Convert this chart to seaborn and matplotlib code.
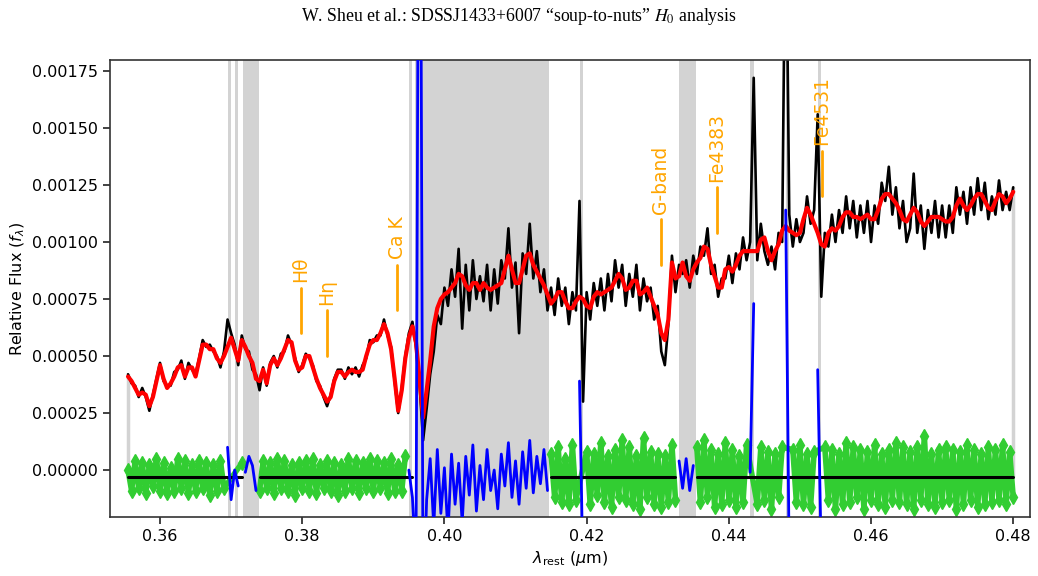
import numpy as np
import matplotlib
matplotlib.use("Agg")
import matplotlib.pyplot as plt
import seaborn as sns
import pandas as pd
from matplotlib.ticker import MultipleLocator, FormatStrFormatter

# ---------------- data (flux values in units of 1e-5) ----------------
wave_start = 0.3555   # micron
wave_step = 0.0005    # micron

model = [
    41, 39, 36, 33, 34, 33, 28, 32, 39, 46,
    40, 36, 38, 41, 45, 46, 41, 45, 45, 41,
    48, 55, 55, 53, 53, 49, 47, 50, 54, 58,
    53, 48, 57, 54, 50, 47, 40, 39, 44, 38,
    46, 49, 46, 49, 53, 57, 56, 48, 44, 45,
    50, 50, 45, 40, 36, 33, 30, 32, 39, 43,
    43, 41, 43, 44, 43, 43, 44, 50, 55, 57,
    57, 60, 64, 60, 53, 40, 26, 35, 49, 58,
    63, 56, 40, 23, 35, 48, 63, 71, 75, 77,
    78, 80, 82, 86, 85, 81, 79, 82, 82, 79,
    82, 80, 79, 80, 81, 82, 88, 94, 88, 82,
    82, 88, 94, 95, 90, 87, 84, 81, 77, 73,
    75, 78, 78, 74, 71, 71, 74, 76, 75, 72,
    71, 76, 78, 77, 78, 79, 80, 83, 86, 84,
    79, 80, 83, 83, 77, 78, 80, 76, 72, 68,
    60, 57, 66, 91, 84, 85, 91, 85, 83, 88,
    91, 93, 98, 97, 90, 85, 80, 80, 88, 89,
    87, 90, 94, 96, 96, 96, 96, 96, 101, 102,
    96, 92, 96, 99, 105, 107, 105, 104, 103, 104,
    110, 115, 112, 108, 104, 99, 98, 104, 106, 105,
    107, 111, 113, 113, 111, 111, 110, 111, 112, 110,
    110, 114, 119, 121, 121, 119, 117, 114, 110, 109,
    112, 115, 113, 109, 107, 109, 111, 111, 111, 110,
    109, 109, 111, 116, 119, 116, 114, 116, 119, 121,
    121, 118, 115, 114, 118, 121, 120, 117, 119, 122,
]

flux = [
    42, 38, 37, 32, 36, 32, 26, 33, 40, 47,
    39, 37, 37, 43, 44, 48, 40, 47, 44, 42,
    49, 57, 54, 55, 52, 50, 45, 52, 66, 60,
    55, 46, 59, 53, 52, 44, 42, 35, 45, 37,
    47, 50, 45, 51, 52, 59, 55, 49, 43, 46,
    51, 49, 46, 39, 37, 32, 28, 33, 40, 44,
    44, 40, 45, 42, 45, 41, 46, 49, 57, 56,
    59, 59, 66, 59, 54, 39, 25, 36, 50, 60,
    65, 54, 38, 13, 27, 42, 52, 68, 64, 80,
    72, 88, 76, 97, 62, 90, 70, 92, 75, 85,
    74, 90, 70, 88, 73, 92, 84, 106, 80, 91,
    60, 95, 86, 108, 84, 96, 78, 88, 70, 80,
    68, 84, 72, 80, 64, 78, 70, 118, 30, 78,
    66, 82, 72, 84, 70, 86, 74, 92, 80, 90,
    72, 86, 76, 90, 70, 84, 74, 80, 66, 72,
    52, 46, 64, 94, 78, 90, 86, 92, 80, 94,
    86, 98, 94, 106, 86, 90, 76, 84, 84, 94,
    82, 95, 88, 102, 92, 100, 172, 92, 108, 96,
    90, 98, 88, 104, 100, 260, 112, 98, 110, 100,
    104, 120, 108, 114, 156, 76, 104, 98, 112, 100,
    114, 104, 120, 106, 118, 102, 116, 104, 118, 100,
    116, 108, 126, 118, 133, 112, 124, 106, 118, 100,
    106, 130, 104, 116, 97, 114, 104, 118, 102, 116,
    102, 116, 104, 124, 112, 122, 108, 124, 112, 128,
    114, 126, 110, 120, 112, 127, 114, 122, 114, 124,
]

resid = [
    3, -6, 7, -5, 6, -7, 5, -4, 8, -6,
    6, -7, 4, -6, 8, -5, 7, -7, 5, -6,
    7, -5, 6, -8, 5, -6, 7, -5, 13, -10,
    3, -4, 6, 2, 9, 5, -6, -6, 7, -5,
    6, -7, 8, -5, 7, -6, 5, -8, 6, -5,
    7, -6, 8, -7, 5, -5, 7, -6, 6, -8,
    5, -6, 8, -5, 7, -7, 6, -5, 8, -6,
    7, -5, 6, -7, 8, -6, 5, -6, 9, 3,
    -9, -40, 400, -60, -10, 8, -22, 12, -16, 4,
    -25, 10, -12, 6, -20, 9, -8, 14, -15, 5,
    -10, 12, -6, 3, -14, 10, -4, 15, -9, 7,
    -12, 11, -5, 16, -7, 9, -3, 12, -6, 10,
    -9, 13, -11, 8, -12, 14, -10, 42, -45, 11,
    -12, 10, -8, 15, -11, 9, -13, 12, -9, 16,
    -10, 13, -12, 9, -14, 17, -9, 11, -12, 10,
    -13, 9, -11, 14, -10, 7, -5, 8, -6, 5,
    13, -11, 16, -9, 12, -13, 10, -12, 15, -10,
    12, -13, 9, -11, 14, 2, 76, -12, 13, -10,
    11, -14, 10, -9, 13, 117, -40, 12, -11, 14,
    -12, 10, -13, 11, 47, -35, 13, -10, 12, -14,
    10, -12, 15, -11, 13, -9, 12, -14, 11, -10,
    14, -12, 10, -13, 12, -10, 15, -11, 13, -12,
    11, -14, 13, -10, 18, -12, 10, -13, 12, -11,
    13, -10, 12, -14, 11, -12, 14, -10, 12, -13,
    10, -12, 13, -11, 12, -10, 14, -12, 11, -9,
]

resid_baseline = -3  # 1e-5 units

mask_lo = [0.3695, 0.3705, 0.3717, 0.3950, 0.3959, 0.4190, 0.4330, 0.4430, 0.4480, 0.4525]
mask_hi = [0.3700, 0.3710, 0.3739, 0.3955, 0.4147, 0.4195, 0.4354, 0.4435, 0.4485, 0.4530]

line_names = ["Hθ", "Hη", "Ca K", "G-band", "Fe4383", "Fe4531"]
line_waves = [0.3798, 0.3835, 0.3934, 0.4304, 0.4383, 0.4531]
line_bottoms = [60, 50, 70, 90, 104, 120]   # 1e-5 units
line_length = 20                             # 1e-5 units

# ---------------- derived arrays ----------------
unit = 1e-5
wave = np.round(wave_start + wave_step * np.arange(len(model)), 4)
model_a = np.array(model, float) * unit
flux_a = np.array(flux, float) * unit
resid_a = np.array(resid, float) * unit + resid_baseline * unit
base = resid_baseline * unit

mask = np.zeros(len(wave), bool)
wide = np.zeros(len(wave), bool)
for lo, hi in zip(mask_lo, mask_hi):
    sel = (wave >= lo - 1e-7) & (wave <= hi + 1e-7)
    mask |= sel
    if hi - lo > 0.001:
        wide |= sel
thin = mask & ~wide

df = pd.DataFrame({"wave": wave, "flux": flux_a, "model": model_a})

# ---------------- plot ----------------
sns.set_style("ticks")
plt.rcParams["font.family"] = ["DejaVu Sans"]
for k in ["text.color", "axes.labelcolor", "xtick.color", "ytick.color"]:
    plt.rcParams[k] = "black"

fig = plt.figure(figsize=(10.38, 5.76), dpi=100)
ax = fig.add_axes([0.106, 0.1024, 0.8863, 0.7934])

for lo, hi in zip(mask_lo, mask_hi):
    ax.axvspan(lo, hi, color="lightgray", lw=0, zorder=0)
ax.vlines([wave[0], wave[-1]], base, [flux_a[0], flux_a[-1]],
          color="lightgray", lw=2.5, zorder=0.5)

sns.lineplot(data=df, x="wave", y="flux", color="black", lw=1.9,
             estimator=None, sort=False, ax=ax, zorder=2)
sns.lineplot(data=df, x="wave", y="model", color="red", lw=3.0,
             estimator=None, sort=False, ax=ax, zorder=3)

# green residuals: unmasked pixels (thin masked pixels skipped, wide masks break the line)
keep = ~thin
green = np.where(wide, np.nan, resid_a)
blue = np.where(mask, resid_a, np.nan)
basel = np.where(~wide, base, np.nan)
ax.plot(wave[keep], green[keep], color="limegreen", marker="d", ms=7, lw=4.0, zorder=2.5)
ax.plot(wave, basel, color="black", lw=2.2, zorder=3.5)
ax.plot(wave, blue, color="blue", lw=2.0, zorder=4)

for name, lw_, yb in zip(line_names, line_waves, line_bottoms):
    y0 = yb * unit
    y1 = (yb + line_length) * unit
    ax.plot([lw_, lw_], [y0, y1], color="orange", lw=2, zorder=5)
    ax.annotate(name, (lw_, y1), xytext=(0, 4), textcoords="offset points",
                rotation=90, ha="center", va="bottom", color="orange",
                fontsize=13.5, zorder=5)

ax.set_xlim(0.35297, 0.48236)
ax.set_ylim(-0.000206, 0.001798)
ax.xaxis.set_major_locator(MultipleLocator(0.02))
ax.xaxis.set_major_formatter(FormatStrFormatter("%.2f"))
ax.yaxis.set_major_locator(MultipleLocator(0.00025))
ax.yaxis.set_major_formatter(FormatStrFormatter("%.5f"))
ax.tick_params(labelsize=11.5, length=5, width=1.2, direction="out", color="#222222")
for s in ax.spines.values():
    s.set_color("#333333")
    s.set_linewidth(1.2)

ax.set_xlabel(r"$\lambda_{\rm rest}$ ($\mu$m)", fontsize=11.5)
ax.set_ylabel(r"Relative Flux ($f_\lambda$)", fontsize=11.5)

fig.text(0.5, 0.972, "W. Sheu et al.: SDSSJ1433+6007 \u201csoup-to-nuts\u201d $H_0$ analysis",
         ha="center", va="center", family="Liberation Serif", fontsize=12.8,
         math_fontfamily="stix")

fig.savefig("out.png", dpi=100)
